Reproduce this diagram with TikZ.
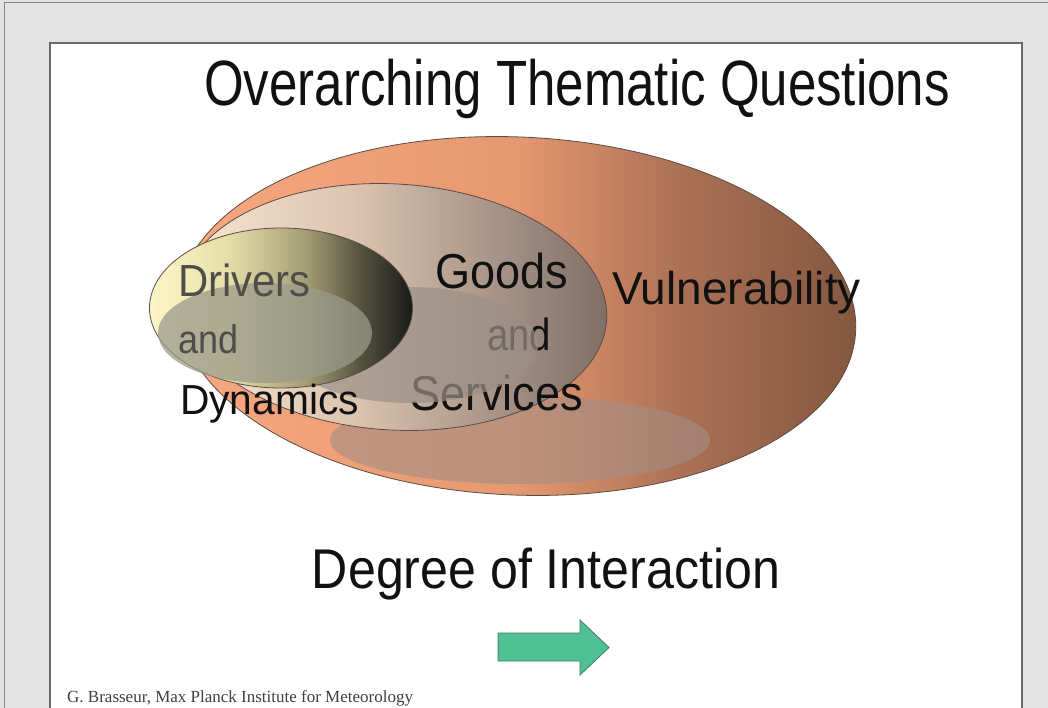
\documentclass[tikz,border=0pt]{standalone}
\usepackage{fontspec}
\usepackage{graphicx}
\setmainfont{Liberation Sans}
\newfontfamily\footfont{Liberation Serif}

% palette
\definecolor{pagegray}{HTML}{E4E4E4}
\definecolor{framegray}{HTML}{858585}
\definecolor{slidegray}{HTML}{6A6A6A}
\definecolor{rimcol}{HTML}{5A4B45}
\definecolor{bigA}{HTML}{F8A880}
\definecolor{bigB}{HTML}{E69870}
\definecolor{bigC}{HTML}{AB7055}
\definecolor{bigD}{HTML}{83573F}
\definecolor{midA}{HTML}{F7E8D4}
\definecolor{midB}{HTML}{DCC4B0}
\definecolor{midC}{HTML}{7E6D66}
\definecolor{smA}{HTML}{FDF6C8}
\definecolor{smB}{HTML}{E6DEA8}
\definecolor{smC}{HTML}{A29C74}
\definecolor{smD}{HTML}{55533F}
\definecolor{smE}{HTML}{1A1A1A}
\definecolor{hlbig}{HTML}{A48E84}
\definecolor{hlmid}{HTML}{9C9088}
\definecolor{hlsmall}{HTML}{9A9A8A}
\definecolor{dimtext}{HTML}{4D4D4A}
\definecolor{inktext}{HTML}{111111}
\definecolor{footgray}{HTML}{404040}
\definecolor{arrowgreen}{HTML}{50C195}
\definecolor{arrowrim}{HTML}{3C7A66}

\pgfdeclarehorizontalshading{outershade}{100bp}{color(0bp)=(bigA); color(25bp)=(bigA); color(50bp)=(bigB); color(62bp)=(bigC); color(75bp)=(bigD); color(100bp)=(bigD)}
\pgfdeclarehorizontalshading{midshade}{100bp}{color(0bp)=(midA); color(25bp)=(midA); color(45bp)=(midB); color(75bp)=(midC); color(100bp)=(midC)}
\pgfdeclarehorizontalshading{innershade}{100bp}{color(0bp)=(smA); color(25bp)=(smA); color(40bp)=(smB); color(55bp)=(smC); color(65bp)=(smD); color(75bp)=(smE); color(100bp)=(smE)}

% size, horizontal squeeze, text
\newcommand\lbltext[3]{\fontsize{#1}{#1}\selectfont\scalebox{#2}[1]{#3}}

\tikzset{
  lbl/.style={inner sep=0pt, outer sep=0pt, text=inktext},
  ring/.style={draw=rimcol, line width=0.8pt},
}

\begin{document}
\begin{tikzpicture}[x=1pt,y=-1pt]
\useasboundingbox (0,0) rectangle (1048,708);

% page and slide frame
\fill[pagegray] (0,0) rectangle (1048,708);
\draw[framegray, line width=1pt] (4,708) -- (4,3) -- (1048,3);
\draw[fill=white, draw=slidegray, line width=1.3pt] (50,710) -- (50,43) -- (1022,43) -- (1022,710);

% title
\node[lbl, anchor=base] (title) at (577,106) {\lbltext{64}{0.797}{Overarching Thematic Questions}};

% outer ellipse: vulnerability
\shadedraw[shading=outershade, ring, rotate around={-2.5:(517,316)}] (517,316) ellipse [x radius=339, y radius=179];
\fill[hlbig, fill opacity=0.62] (520,440) ellipse [x radius=190, y radius=44];

% middle ellipse: goods and services
\shadedraw[shading=midshade, ring, rotate around={-3.5:(394,307)}] (394,307) ellipse [x radius=213, y radius=123];
\node[lbl, anchor=base west] (goods) at (435,288) {\lbltext{49}{0.92}{Goods}};
\node[lbl, anchor=base west] (and2) at (487,350) {\lbltext{45}{0.85}{and}};
\node[lbl, anchor=base west] (services) at (410,410) {\lbltext{49}{0.92}{Services}};
\fill[hlmid, fill opacity=0.7] (410,345) ellipse [x radius=128, y radius=58];

% inner ellipse: drivers and dynamics
\shadedraw[shading=innershade, ring] (281,308) ellipse [x radius=131.5, y radius=80];
\fill[hlsmall, fill opacity=0.75] (265,333) ellipse [x radius=107, y radius=50];
\node[lbl, anchor=base west, text=dimtext] (drivers) at (178,297) {\lbltext{45}{0.93}{Drivers}};
\node[lbl, anchor=base west, text=dimtext] (and1) at (178,353) {\lbltext{40}{0.9}{and}};
\node[lbl, anchor=base west] (dynamics) at (180,414) {\lbltext{42}{0.97}{Dynamics}};

\node[lbl, anchor=base west] (vuln) at (612,305) {\lbltext{46}{1.0}{Vulnerability}};

% axis label and direction arrow
\node[lbl, anchor=base] (degree) at (546,588) {\lbltext{56}{0.895}{Degree of Interaction}};
\draw[fill=arrowgreen, draw=arrowrim, line width=0.8pt, line join=miter]
  (498,633) -- (580,633) -- (580,620) -- (609,647.5) -- (580,675) -- (580,661) -- (498,661) -- cycle;

% credit line
\node[inner sep=0pt, anchor=base west, text=footgray] (credit) at (67,702)
  {\footfont\fontsize{17}{17}\selectfont G. Brasseur, Max Planck Institute for Meteorology};
\end{tikzpicture}
\end{document}
